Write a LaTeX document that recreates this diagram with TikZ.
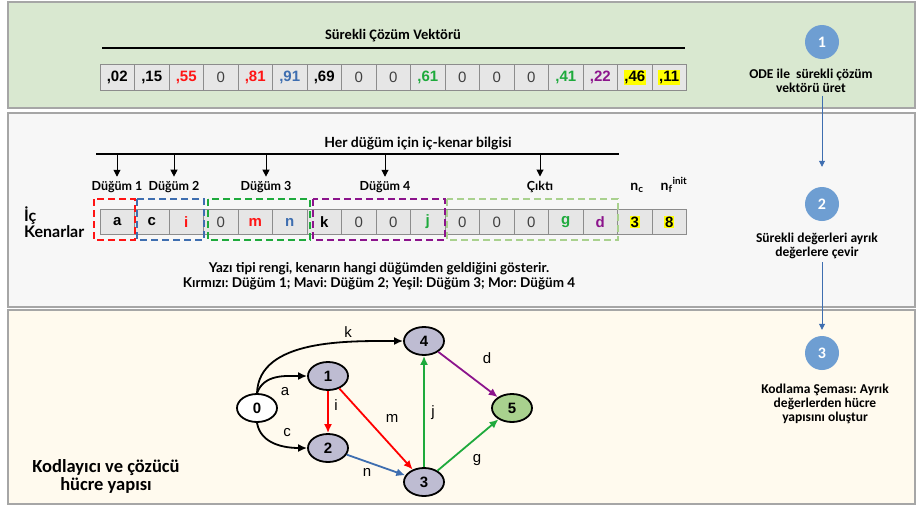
\documentclass[tikz,border=0pt]{standalone}
\usepackage{fontspec}
\setmainfont{Liberation Sans}
\newfontfamily\carlito{Carlito}
\newfontfamily\lato{Lato}
\usetikzlibrary{arrows.meta,shapes.geometric}
\frenchspacing

\definecolor{panelA}{RGB}{217,232,208}
\definecolor{panelB}{RGB}{247,247,247}
\definecolor{panelC}{RGB}{255,250,238}
\definecolor{panelline}{RGB}{166,166,166}
\definecolor{cellfill}{RGB}{230,230,230}
\definecolor{cellline}{RGB}{140,140,140}
\definecolor{zred}{RGB}{255,20,20}
\definecolor{zblue}{RGB}{62,110,176}
\definecolor{zgreen}{RGB}{30,170,60}
\definecolor{zpurple}{RGB}{140,20,140}
\definecolor{zlgreen}{RGB}{169,209,142}
\definecolor{stepblue}{RGB}{110,158,210}
\definecolor{nodegray}{RGB}{190,188,210}
\definecolor{nodegreen}{RGB}{169,209,142}
\definecolor{zerogray}{RGB}{64,64,64}
\definecolor{hlyellow}{RGB}{255,255,0}

% cell contents: coloured bold value, plain zero, highlighted value
\newcommand\cb[2]{{\bfseries\color{#1}#2}}
\newcommand\cz{{\color{zerogray}0}}
\newcommand\hlt[1]{{\setlength{\fboxsep}{0.8pt}\colorbox{hlyellow}{\bfseries #1}}}

\begin{document}
\begin{tikzpicture}[x=1pt,y=-1pt,
  panel/.style={draw=panelline,line width=1.5pt},
  cell/.style={draw=cellline,fill=cellfill,line width=0.8pt,minimum width=34.5,minimum height=25.5,
    inner sep=0pt,outer sep=0pt,font=\fontsize{15}{15}\selectfont},
  stepcirc/.style={circle,fill=stepblue,minimum size=34,inner sep=0pt,text=white,
    font=\carlito\bfseries\fontsize{16}{16}\selectfont},
  steptext/.style={align=center,inner sep=0pt,font=\carlito\bfseries\fontsize{13.5}{14}\selectfont},
  stepline/.style={draw=zblue,line width=0.8pt,-{Triangle[length=6pt,width=6pt]}},
  grouplabel/.style={anchor=base,inner sep=0pt,font=\lato\bfseries\fontsize{12.5}{14}\selectfont},
  downarr/.style={line width=1pt,-{Triangle[length=7pt,width=7pt]}},
  groupbox/.style={dash pattern=on 7pt off 4pt,line width=1.8pt},
  gnode/.style={ellipse,draw,line width=1.8pt,minimum width=40,minimum height=28,inner sep=0pt,
    font=\bfseries\fontsize{15}{15}\selectfont},
  gedge/.style={line width=1.8pt,-{Latex[length=9pt,width=8pt]}},
  elabel/.style={inner sep=0pt,font=\fontsize{15}{15}\selectfont}]
\useasboundingbox (0,0) rectangle (917,506);

% three background panels
\draw[panel,fill=panelA] (8,2) rectangle (915,108);
\draw[panel,fill=panelB] (8,113) rectangle (915,307);
\draw[panel,fill=panelC] (8,310) rectangle (915,504);

% ---- continuous solution vector
\node[anchor=base,inner sep=0pt,font=\carlito\bfseries\fontsize{14.5}{16}\selectfont] (vtitle) at (393,39) {Sürekli Çözüm Vektörü};
\draw[line width=1.5pt] (102,48) -- (685,48);
\foreach \t [count=\i] in {{\cb{black}{,02}},{\cb{black}{,15}},{\cb{zred}{,55}},\cz,{\cb{zred}{,81}},
    {\cb{zblue}{,91}},{\cb{black}{,69}},\cz,\cz,{\cb{zgreen}{,61}},\cz,\cz,\cz,{\cb{zgreen}{,41}},
    {\cb{zpurple}{,22}},{\hlt{,46}},{\hlt{,11}}}
  \node[cell] (v\i) at ({82.75+34.5*\i},77.5) {\t};

% ---- in-edge encoding
\node[anchor=base,inner sep=0pt,font=\lato\bfseries\fontsize{14}{16}\selectfont] (etitle) at (418,147) {Her düğüm için iç-kenar bilgisi};
\draw[line width=1.5pt] (96,154) -- (619,154);
\coordinate (bar) at (0,154);
\node[grouplabel] (d1) at (117,190) {Düğüm 1};
\node[grouplabel] (d2) at (174,190) {Düğüm 2};
\node[grouplabel] (d3) at (266,190) {Düğüm 3};
\node[grouplabel] (d4) at (385,190) {Düğüm 4};
\node[grouplabel] (d5) at (540,190) {Çıktı};
\foreach \d in {d1,d2,d3,d4,d5}
  \draw[downarr,shorten >=4pt] (\d.north |- bar) -- (\d.north);
\node[grouplabel,font=\lato\bfseries\fontsize{14}{14}\selectfont] (nc) at (637,190) {n\textsubscript{c}};
\node[grouplabel,font=\lato\bfseries\fontsize{14}{14}\selectfont] (nf) at (674,190) {n\textsubscript{f}\textsuperscript{init}};

\node[anchor=west,align=left,inner sep=0pt,font=\lato\bfseries\fontsize{16}{16}\selectfont] (ic) at (24,222) {İç\\Kenarlar};

\foreach \t [count=\i] in {{\cb{black}{a}},{\cb{black}{c}},{\cb{zred}{i}},\cz,{\cb{zred}{m}},
    {\cb{zblue}{n}},{\cb{black}{k}},\cz,\cz,{\cb{zgreen}{j}},\cz,\cz,\cz,{\cb{zgreen}{g}},
    {\cb{zpurple}{d}},{\hlt{3}},{\hlt{8}}}
  \node[cell] (r\i) at ({82.75+34.5*\i},222) {\t};

% dashed groups of in-edges per node
\draw[groupbox,draw=zred] (94,199) rectangle (135,240);
\draw[groupbox,draw=zblue] (137,199) rectangle (204,240);
\draw[groupbox,draw=zgreen] (208,199) rectangle (310,240);
\draw[groupbox,draw=zpurple] (313,199) rectangle (445,240);
\draw[groupbox,draw=zlgreen] (447,199) rectangle (618,240);

\node[align=center,inner sep=0pt,font=\lato\bfseries\fontsize{13.5}{15}\selectfont] (note) at (379,276) {Yazı tipi rengi, kenarın hangi düğümden geldiğini gösterir.\\Kırmızı: Düğüm 1; Mavi: Düğüm 2; Yeşil: Düğüm 3; Mor: Düğüm 4};

% ---- cell graph
\node[gnode,fill=white] (n0) at (257,408) {0};
\node[gnode,fill=nodegray] (n1) at (328,376) {1};
\node[gnode,fill=nodegray] (n2) at (328,448) {2};
\node[gnode,fill=nodegray] (n3) at (424,482) {3};
\node[gnode,fill=nodegray] (n4) at (424,341) {4};
\node[gnode,fill=nodegreen] (n5) at (512,408) {5};

\draw[gedge] (n0.north) to[out=88,in=180,looseness=0.9] (n4.west);
\draw[gedge] (n0.north) to[out=70,in=180] (n1.west);
\draw[gedge] (n0.south) to[out=-80,in=180] (n2.west);
\draw[gedge,draw=red] (n1) -- (n2);
\draw[gedge,draw=red] (n1) -- (n3);
\draw[gedge,draw=zblue] (n2) -- (n3);
\draw[gedge,draw=zgreen] (n3) -- (n4);
\draw[gedge,draw=zpurple] (n4) -- (n5);
\draw[gedge,draw=zgreen] (n3) -- (n5);

\node[elabel] (lk) at (348,332) {k};
\node[elabel] (la) at (285,392) {a};
\node[elabel] (lc) at (287,433) {c};
\node[elabel] (li) at (336,405) {i};
\node[elabel] (lm) at (392,418) {m};
\node[elabel] (ln) at (367,472) {n};
\node[elabel] (lj) at (433,413) {j};
\node[elabel] (ld) at (487,358) {d};
\node[elabel] (lg) at (477,460) {g};

\node[align=center,inner sep=0pt,font=\carlito\bfseries\fontsize{18.5}{18}\selectfont] (ctitle) at (106,476) {Kodlayıcı ve çözücü\\hücre yapısı};

% ---- workflow steps
\node[stepcirc] (c1) at (822,42) {1};
\node[stepcirc] (c2) at (822,204) {2};
\node[stepcirc] (c3) at (822,353) {3};
\node[steptext] (t1) at (811,80.6) {ODE ile\ \ sürekli çözüm\\vektörü üret};
\node[steptext] (t2) at (817,246.3) {Sürekli değerleri ayrık\\değerlere çevir};
\node[steptext] (t3) at (825,404) {Kodlama Şeması: Ayrık\\değerlerden hücre\\yapısını oluştur};
\draw[stepline,shorten <=3pt,shorten >=20pt] (c2 |- t1.south) -- (c2.north);
\draw[stepline,shorten <=3pt,shorten >=6pt] (c3 |- t2.south) -- (c3.north);
\end{tikzpicture}
\end{document}
